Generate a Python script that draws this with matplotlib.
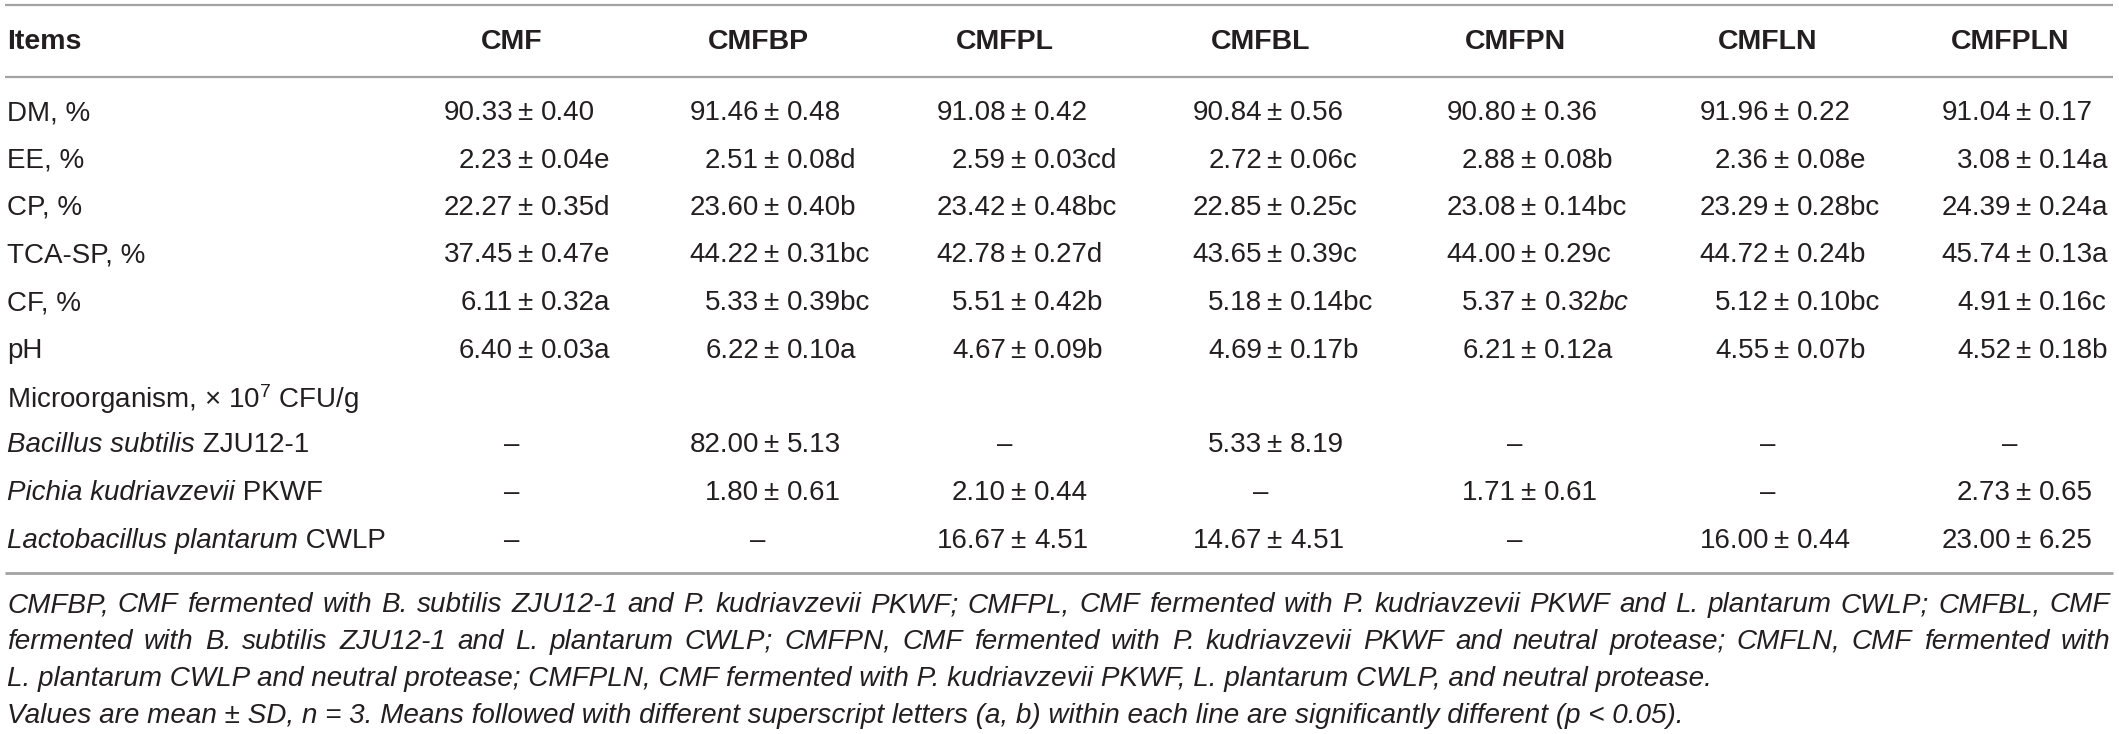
import matplotlib
matplotlib.use("Agg")
import matplotlib.pyplot as plt

plt.rcParams['font.family'] = ['Liberation Sans', 'DejaVu Sans']
plt.rcParams['mathtext.fontset'] = 'custom'
plt.rcParams['mathtext.rm'] = 'Liberation Sans'
plt.rcParams['mathtext.it'] = 'Liberation Sans:italic'

# ---------------- data ----------------
columns = ['CMF', 'CMFBP', 'CMFPL', 'CMFBL', 'CMFPN', 'CMFLN', 'CMFPLN']

dm_mean = [90.33, 91.46, 91.08, 90.84, 90.80, 91.96, 91.04]
dm_sd = [0.40, 0.48, 0.42, 0.56, 0.36, 0.22, 0.17]
dm_sig = ['', '', '', '', '', '', '']

ee_mean = [2.23, 2.51, 2.59, 2.72, 2.88, 2.36, 3.08]
ee_sd = [0.04, 0.08, 0.03, 0.06, 0.08, 0.08, 0.14]
ee_sig = ['e', 'd', 'cd', 'c', 'b', 'e', 'a']

cp_mean = [22.27, 23.60, 23.42, 22.85, 23.08, 23.29, 24.39]
cp_sd = [0.35, 0.40, 0.48, 0.25, 0.14, 0.28, 0.24]
cp_sig = ['d', 'b', 'bc', 'c', 'bc', 'bc', 'a']

tca_mean = [37.45, 44.22, 42.78, 43.65, 44.00, 44.72, 45.74]
tca_sd = [0.47, 0.31, 0.27, 0.39, 0.29, 0.24, 0.13]
tca_sig = ['e', 'bc', 'd', 'c', 'c', 'b', 'a']

cf_mean = [6.11, 5.33, 5.51, 5.18, 5.37, 5.12, 4.91]
cf_sd = [0.32, 0.39, 0.42, 0.14, 0.32, 0.10, 0.16]
cf_sig = ['a', 'bc', 'b', 'bc', 'bc', 'bc', 'c']
cf_sig_italic = [False, False, False, False, True, False, False]

ph_mean = [6.40, 6.22, 4.67, 4.69, 6.21, 4.55, 4.52]
ph_sd = [0.03, 0.10, 0.09, 0.17, 0.12, 0.07, 0.18]
ph_sig = ['a', 'a', 'b', 'b', 'a', 'b', 'b']

bs_mean = [None, 82.00, None, 5.33, None, None, None]
bs_sd = [None, 5.13, None, 8.19, None, None, None]

pk_mean = [None, 1.80, 2.10, None, 1.71, None, 2.73]
pk_sd = [None, 0.61, 0.44, None, 0.61, None, 0.65]

lp_mean = [None, None, 16.67, 14.67, None, 16.00, 23.00]
lp_sd = [None, None, 4.51, 4.51, None, 0.44, 6.25]

none_sig = [''] * 7
no_ital = [False] * 7

rows = [
    (('DM, %', ''), dm_mean, dm_sd, dm_sig, no_ital),
    (('EE, %', ''), ee_mean, ee_sd, ee_sig, no_ital),
    (('CP, %', ''), cp_mean, cp_sd, cp_sig, no_ital),
    (('TCA-SP, %', ''), tca_mean, tca_sd, tca_sig, no_ital),
    (('CF, %', ''), cf_mean, cf_sd, cf_sig, cf_sig_italic),
    (('pH', ''), ph_mean, ph_sd, ph_sig, no_ital),
    (('Microorganism, \u00d7 10$^{7}$ CFU/g', ''), None, None, None, None),
    (('', 'Bacillus subtilis', ' ZJU12-1'), bs_mean, bs_sd, none_sig, no_ital),
    (('', 'Pichia kudriavzevii', ' PKWF'), pk_mean, pk_sd, none_sig, no_ital),
    (('', 'Lactobacillus plantarum', ' CWLP'), lp_mean, lp_sd, none_sig, no_ital),
]

footnote_lines = [
    "CMFBP, CMF fermented with B. subtilis ZJU12-1 and P. kudriavzevii PKWF; CMFPL, CMF fermented with P. kudriavzevii PKWF and L. plantarum CWLP; CMFBL, CMF",
    "fermented with B. subtilis ZJU12-1 and L. plantarum CWLP; CMFPN, CMF fermented with P. kudriavzevii PKWF and neutral protease; CMFLN, CMF fermented with",
    "L. plantarum CWLP and neutral protease; CMFPLN, CMF fermented with P. kudriavzevii PKWF, L. plantarum CWLP, and neutral protease.",
    "Values are mean \u00b1 SD, n = 3. Means followed with different superscript letters (a, b) within each line are significantly different (p < 0.05).",
]
footnote_justify = [True, True, False, False]

# ---------------- layout ----------------
W, H = 2119, 734
fig = plt.figure(figsize=(W / 100, H / 100), dpi=100)
ax = fig.add_axes([0, 0, 1, 1])
ax.set_xlim(0, W)
ax.set_ylim(H, 0)
ax.axis('off')
fig.canvas.draw()
renderer = fig.canvas.get_renderer()

TXT = '#231f20'
RULE = '#a3a3a3'
body_fs = 20.0
head_fs = 20.5
x_left = 7
col_x = [512, 758, 1005, 1261, 1515, 1768, 2010]
header_y = 42
row_y0 = 110
row_dy = 47.5
rule_y = [5, 77, 573]


def text_width(s, **kw):
    t = ax.text(0, 0, s, **kw)
    bb = t.get_window_extent(renderer=renderer)
    t.remove()
    return bb.width


# rules
for i, y in enumerate(rule_y):
    ax.plot([5, 2113], [y, y], color=RULE, lw=1.6 if i < 2 else 2.0,
            solid_capstyle='butt')

# header
ax.text(x_left, header_y, 'Items', fontsize=head_fs, fontweight='bold',
        color=TXT, ha='left', va='center')
for cx, c in zip(col_x, columns):
    ax.text(cx, header_y, c, fontsize=head_fs, fontweight='bold',
            color=TXT, ha='center', va='center')

# body rows
for r, (label, means, sds, sigs, itals) in enumerate(rows):
    y = row_y0 + r * row_dy
    if label[0]:
        ax.text(x_left, y, label[0], fontsize=body_fs, color=TXT,
                ha='left', va='center_baseline')
    else:
        ital, rest = label[1], label[2]
        ax.text(x_left, y, ital, fontsize=body_fs, color=TXT, style='italic',
                ha='left', va='center_baseline')
        wi = text_width(ital, fontsize=body_fs, style='italic')
        ax.text(x_left + wi, y, rest, fontsize=body_fs, color=TXT,
                ha='left', va='center_baseline')
    if means is None:
        continue
    for cx, m, s, g, it in zip(col_x, means, sds, sigs, itals):
        if m is None:
            ax.text(cx, y, '\u2013', fontsize=body_fs, color=TXT,
                    ha='center', va='center_baseline')
            continue
        ax.text(cx + 1, y, f'{m:.2f}', fontsize=body_fs, color=TXT,
                ha='right', va='center_baseline')
        ax.text(cx + 13, y, '\u00b1', fontsize=body_fs, color=TXT,
                ha='center', va='center_baseline')
        sig_txt = (r'$\mathit{' + g + '}$') if (it and g) else g
        ax.text(cx + 29, y, f'{s:.2f}' + sig_txt, fontsize=body_fs,
                color=TXT, ha='left', va='center_baseline')

# footnotes
foot_fs0 = 17.0
w3 = text_width(footnote_lines[2], fontsize=foot_fs0, style='italic')
w4 = text_width(footnote_lines[3], fontsize=foot_fs0, style='italic')
foot_fs = foot_fs0 * (1700 - x_left) / ((w3 + w4) / 2)
foot_y = [602, 639, 676, 713]
x_right = 2110
for line, just, y in zip(footnote_lines, footnote_justify, foot_y):
    if not just:
        ax.text(x_left, y, line, fontsize=foot_fs, style='italic', color=TXT,
                ha='left', va='center_baseline')
        continue
    words = line.split(' ')
    widths = [text_width(wd, fontsize=foot_fs, style='italic') for wd in words]
    gap = (x_right - x_left - sum(widths)) / (len(words) - 1)
    x = x_left
    for wd, ww in zip(words, widths):
        ax.text(x, y, wd, fontsize=foot_fs, style='italic', color=TXT,
                ha='left', va='center_baseline')
        x += ww + gap

fig.savefig('out.png', dpi=100)
